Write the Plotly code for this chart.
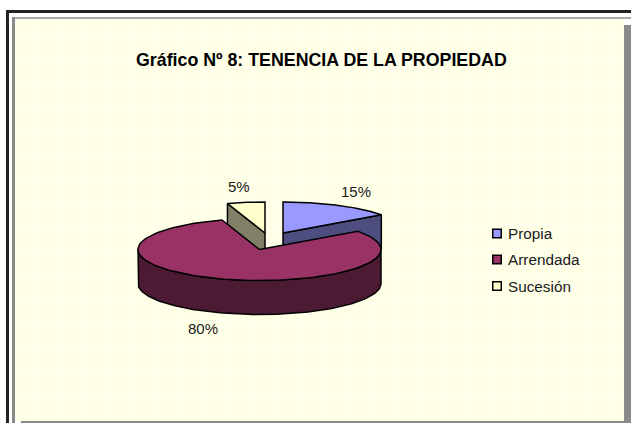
import numpy as np
import plotly.graph_objects as go

TITLE = "Gráfico Nº 8: TENENCIA DE LA PROPIEDAD"
categories = ["Propia", "Arrendada", "Sucesión"]
shares = [15, 80, 5]
share_labels = ["15%", "80%", "5%"]

top_colors = ["#9999FF", "#993366", "#FFFFCC"]
side_colors = ["#4D4D80", "#4D1A33", "#808066"]

W, H = 631, 423
RX, RY, DEPTH = 121.5, 31, 34
CENTER = (259.5, 249.5)
# explode offset of the separated slices relative to the pie centre
OFFSETS = [(23.5, -16.5), (0, 0), (5.5, -16.5)]
LABEL_POS = [(356, 191), (203, 328), (239, 186)]
LEGEND_X, LEGEND_TEXT_X, LEGEND_YS = 497, 505.5, [233.5, 259.5, 286]

fracs = np.array(shares) / sum(shares)
ends = np.cumsum(fracs) * 2 * np.pi
starts = ends - fracs * 2 * np.pi


def rim(cx, cy, a0, a1, n=120):
    t = np.linspace(a0, a1, n)
    return cx + RX * np.sin(t), cy - RY * np.cos(t)


def poly(x, y, color, width=1.5):
    return go.Scatter(x=list(x), y=list(y), mode="lines", fill="toself",
                      fillcolor=color, line=dict(color="#000000", width=width),
                      hoverinfo="skip", showlegend=False)


def top(i):
    cx, cy = CENTER[0] + OFFSETS[i][0], CENTER[1] + OFFSETS[i][1]
    x, y = rim(cx, cy, starts[i], ends[i])
    return poly(np.r_[cx, x, cx], np.r_[cy, y, cy], top_colors[i])


def cut_face(i, angle):
    cx, cy = CENTER[0] + OFFSETS[i][0], CENTER[1] + OFFSETS[i][1]
    ex, ey = cx + RX * np.sin(angle), cy - RY * np.cos(angle)
    return poly([cx, ex, ex, cx, cx], [cy, ey, ey + DEPTH, cy + DEPTH, cy], side_colors[i])


def front_wall(i):
    cx, cy = CENTER
    x, y = rim(cx, cy, np.pi / 2, 3 * np.pi / 2)
    return poly(np.r_[x, x[::-1], x[0]], np.r_[y, y[::-1] + DEPTH, y[0]], side_colors[i])


traces = []
# panel with the fine dithered paper tone
traces.append(go.Bar(x=[(15 + 624) / 2], y=[421 - 19], base=[19], width=[624 - 15],
                     marker=dict(color="#FFFFE2", line_width=0,
                                 pattern=dict(shape=".", size=6, solidity=0.5,
                                              fgcolor="#FFFFFA", bgcolor="#FFFFE2")),
                     hoverinfo="skip", showlegend=False))
traces += [cut_face(2, starts[2]), top(2), cut_face(0, ends[0]), top(0), front_wall(1), top(1)]
traces.append(go.Scatter(
    x=[LEGEND_X] * 3, y=LEGEND_YS, mode="markers",
    marker=dict(symbol="square", size=8.5, color=top_colors,
                line=dict(color="#000000", width=1.5)),
    hoverinfo="skip", showlegend=False))

fig = go.Figure(traces)

BLACK, GREY = "#222222", "#8A8A8A"
rect = lambda x0, y0, x1, y1, c: dict(type="rect", x0=x0, y0=y0, x1=x1, y1=y1,
                                      fillcolor=c, line_width=0, layer="below")
shapes = [
    rect(6, 10, W, 13, BLACK), rect(6, 10, 9, H, BLACK),
    rect(12, 17, W, 19, "#A8A8A8"), rect(12, 17, 15, H, GREY),
    rect(624, 25, W, H, GREY), rect(21, 421, 624, H, GREY),
]

ann = [dict(x=321.5, y=60, text="<b>" + TITLE + "</b>", showarrow=False, xanchor="center",
            yanchor="middle", font=dict(family="Liberation Sans", size=17.8, color="#000000"))]
for (x, y), t in zip(LABEL_POS, share_labels):
    ann.append(dict(x=x, y=y, text=t, showarrow=False, xanchor="center", yanchor="middle",
                    font=dict(family="Liberation Sans", size=15, color="#1a1a1a")))
for y, t in zip(LEGEND_YS, categories):
    ann.append(dict(x=LEGEND_TEXT_X, y=y, text=t, showarrow=False, xanchor="left", yanchor="middle",
                    font=dict(family="Liberation Sans", size=15.3, color="#1a1a1a")))

fig.update_layout(
    width=W, height=H, margin=dict(l=0, r=0, t=0, b=0),
    paper_bgcolor="#FFFFFF", plot_bgcolor="rgba(0,0,0,0)",
    xaxis=dict(range=[0, W], visible=False, fixedrange=True),
    yaxis=dict(range=[H, 0], visible=False, fixedrange=True),
    shapes=shapes, annotations=ann, showlegend=False,
)
fig.write_html("out.html", config=dict(displayModeBar=False),
               post_script="document.body.style.margin='0';document.body.style.overflow='hidden';")
